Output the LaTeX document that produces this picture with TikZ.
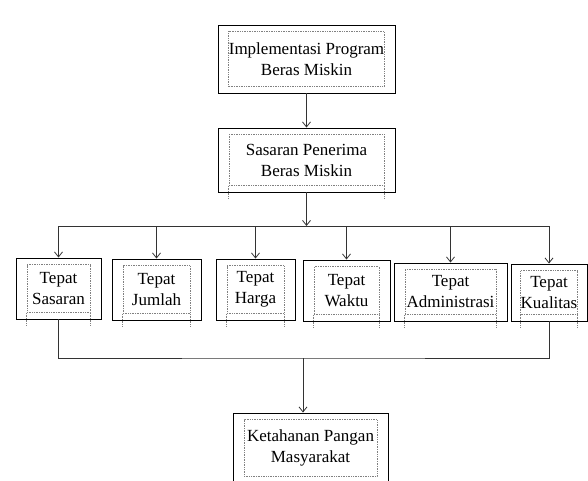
\documentclass[tikz,border=0pt]{standalone}
\usepackage{fontspec}
\setmainfont{Liberation Serif}
\usetikzlibrary{arrows.meta}

\tikzset{
    luar/.style={draw=black, line width=0.9pt, inner sep=0pt},
    dalam/.style={draw=gray, densely dotted, line width=0.7pt, inner sep=0pt, align=center,
        font=\fontsize{17}{21}\selectfont},
    titik/.style={draw=gray, densely dotted, line width=0.7pt},
    garis/.style={draw=black!80, line width=0.8pt},
    >={Straight Barb[length=5pt,width=8pt]}
}

% kotak: nama, x, y, lebar, tinggi, teks
\newcommand{\kotak}[6]{%
    \node[luar, minimum width=#4pt, minimum height=#5pt] (#1) at (#2,#3) {};
    \node[dalam, minimum width=#4pt-22pt, minimum height=#5pt-13pt] (#1-d) at (#1.center) {#6};
}

\begin{document}
\begin{tikzpicture}[x=1pt, y=-1pt]

    \useasboundingbox (0,0) rectangle (588,481);
    \clip (0,0) rectangle (588,481);

    \kotak{impl}{306.5}{59}{177}{68}{Implementasi Program\\Beras Miskin}
    \kotak{sasaran}{306.5}{160}{177}{64}{Sasaran Penerima\\Beras Miskin}

    \kotak{ts}{58.5}{288.5}{85}{61}{Tepat\\Sasaran}
    \kotak{tj}{156.5}{289.5}{89}{61}{Tepat\\Jumlah}
    \kotak{th}{255.5}{289.5}{79}{61}{Tepat\\Harga}
    \kotak{tw}{346.5}{290.5}{87}{61}{Tepat\\Waktu}
    \kotak{ta}{450.5}{292}{113}{58}{Tepat\\Administrasi}
    \kotak{tk}{549}{292.5}{76}{57}{Tepat\\Kualitas}

    \kotak{ket}{310.5}{448}{155}{70}{Ketahanan Pangan\\Masyarakat}

    % garis titik di bawah kotak
    \foreach \n in {sasaran,ts,tj,th,tw,ta,tk} {
        \draw[titik] (\n-d.south west) -- ++(0,13);
        \draw[titik] (\n-d.south east) -- ++(0,13);
    }

    \coordinate (bagi) at (sasaran.south |- 0,226);
    \coordinate (gabung) at (303,358);

    \draw[garis,->] (impl) -- (sasaran);
    \draw[garis,->] (sasaran) -- (bagi);
    \draw[garis] (bagi -| ts) -- (bagi -| tk);
    \foreach \n in {ts,tj,th,tw,ta,tk}
        \draw[garis,->] (bagi -| \n) -- (\n);

    \draw[garis] (ts) |- (gabung) -| (tk);
    \draw[garis,->] (gabung) -- (gabung |- ket.north);

\end{tikzpicture}
\end{document}
